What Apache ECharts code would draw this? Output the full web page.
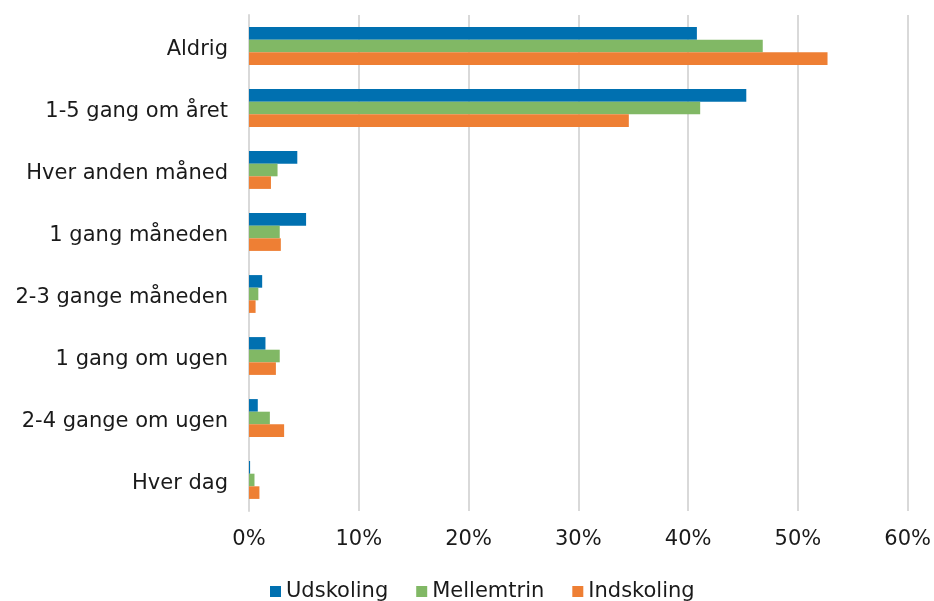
<!DOCTYPE html>
<html>
<head>
<meta charset="utf-8">
<script src="https://cdn.jsdelivr.net/npm/echarts@6/dist/echarts.min.js"></script>
<style>
  html, body { margin: 0; padding: 0; background: #fff; }
  #main { width: 934px; height: 601px; }
</style>
</head>
<body>
<div id="main"></div>
<script>
var categories = ['Aldrig', '1-5 gang om året', 'Hver anden måned', '1 gang måneden',
  '2-3 gange måneden', '1 gang om ugen', '2-4 gange om ugen', 'Hver dag'];
var udskoling = [40.8, 45.3, 4.4, 5.2, 1.2, 1.5, 0.8, 0.1];
var mellemtrin = [46.8, 41.1, 2.6, 2.8, 0.85, 2.8, 1.9, 0.5];
var indskoling = [52.7, 34.6, 2.0, 2.9, 0.6, 2.45, 3.2, 0.95];

var chartDom = document.getElementById('main');
var myChart = echarts.init(chartDom);
var font = 'DejaVu Sans, Verdana, sans-serif';

function mk(name, data, color) {
  return {
    name: name,
    type: 'bar',
    data: data,
    barGap: '0%',
    barCategoryGap: '39%',
    itemStyle: { color: color },
    emphasis: { disabled: true }
  };
}

var option = {
  animation: false,
  textStyle: { fontFamily: font },
  grid: { left: 249, right: 26, top: 15, bottom: 90, containLabel: false },
  legend: {
    bottom: -6,
    left: 265,
    itemWidth: 11,
    itemHeight: 11,
    itemGap: 28,
    icon: 'rect',
    textStyle: { fontSize: 21, color: '#1a1a1a', fontFamily: font },
    data: ['Udskoling', 'Mellemtrin', 'Indskoling']
  },
  xAxis: {
    type: 'value',
    min: 0,
    max: 60,
    interval: 10,
    axisLine: { show: false },
    axisTick: { show: false },
    axisLabel: {
      formatter: '{value}%',
      fontSize: 21,
      color: '#1a1a1a',
      margin: 18,
      fontFamily: font
    },
    splitLine: { lineStyle: { color: '#d9d9d9', width: 2 } }
  },
  yAxis: {
    type: 'category',
    inverse: true,
    data: categories,
    axisLine: { show: true, lineStyle: { color: '#d9d9d9', width: 2 } },
    axisTick: { show: false },
    axisLabel: {
      margin: 21,
      formatter: function (v) { return '{c|' + v + '}'; },
      rich: {
        c: {
          fontSize: 21,
          color: '#1a1a1a',
          fontFamily: font,
          padding: [8, 0, 0, 0]
        }
      }
    }
  },
  series: [
    mk('Udskoling', udskoling, '#0070b0'),
    mk('Mellemtrin', mellemtrin, '#81b865'),
    mk('Indskoling', indskoling, '#ee7f34')
  ]
};

myChart.setOption(option);
</script>
</body>
</html>
